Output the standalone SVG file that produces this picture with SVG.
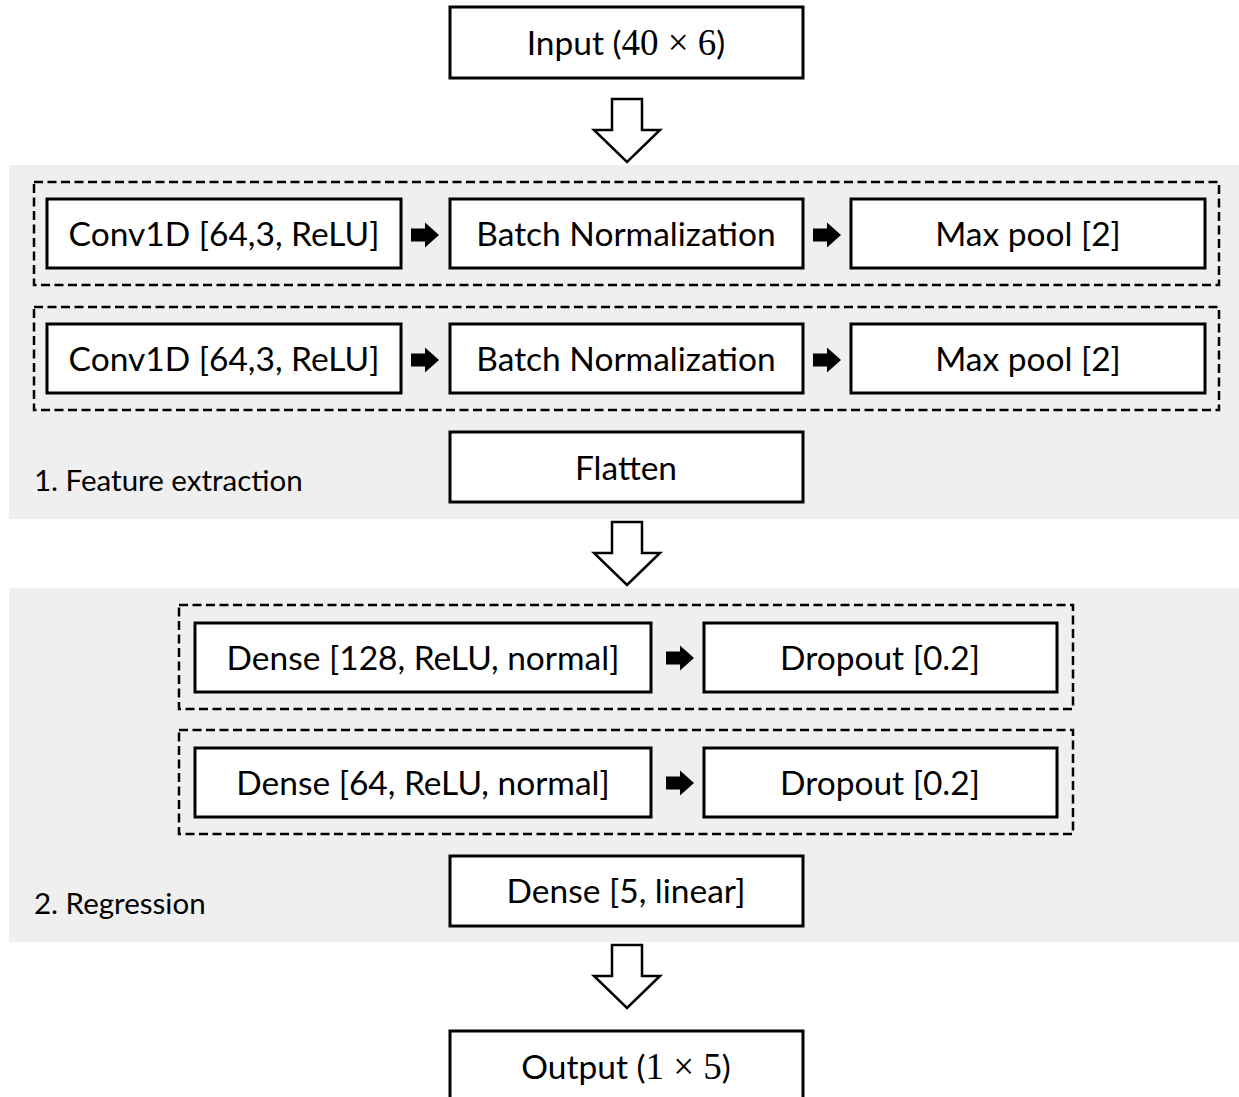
<svg xmlns="http://www.w3.org/2000/svg" width="1239" height="1097" viewBox="0 0 1239 1097">
<defs>
<style>
.panel{fill:#efefef;stroke:none}
.box{fill:#ffffff;stroke:#000;stroke-width:3}
.grp{fill:none;stroke:#000;stroke-width:2.5;stroke-dasharray:9 4.5}
.t{font-family:Lato,"Liberation Sans",sans-serif;font-size:33.5px;fill:#000;text-anchor:middle}
.m{font-family:"Liberation Serif",serif;font-size:37px}
.lbl{font-family:Lato,"Liberation Sans",sans-serif;font-size:29.5px;fill:#000}
.big{fill:#fff;stroke:#000;stroke-width:2.5;stroke-linejoin:miter}
.small{fill:#000;stroke:none}
</style>
<path id="bigArrow" d="M-15,0 H15 V31 H33 L0,63 L-33,31 H-15 Z"/>
<path id="smallArrow" d="M0,-6.5 H14 V-12.5 L28,0 L14,12.5 V6.5 H0 Z"/>
</defs>
<rect width="1239" height="1097" fill="#fff"/>
<g id="panels">
<rect class="panel" x="9" y="165" width="1230" height="354"/>
<rect class="panel" x="9" y="588" width="1230" height="354"/>
<text class="lbl" x="34" y="491">1. Feature extraction</text>
<text class="lbl" x="34" y="914">2. Regression</text>
</g>
<g id="groups">
<rect class="grp" x="34" y="182" width="1185" height="103"/>
<rect class="grp" x="34" y="307" width="1185" height="103"/>
<rect class="grp" x="179" y="605" width="894" height="104"/>
<rect class="grp" x="179" y="730" width="894" height="104"/>
</g>
<g id="connectors">
<use href="#bigArrow" class="big" x="627" y="99"/>
<use href="#bigArrow" class="big" x="627" y="522"/>
<use href="#bigArrow" class="big" x="627" y="945"/>
<use href="#smallArrow" class="small" x="411" y="235"/>
<use href="#smallArrow" class="small" x="813" y="235"/>
<use href="#smallArrow" class="small" x="411" y="360"/>
<use href="#smallArrow" class="small" x="813" y="360"/>
<use href="#smallArrow" class="small" x="666" y="658"/>
<use href="#smallArrow" class="small" x="666" y="783"/>
</g>
<g id="input"><rect class="box" x="450" y="7" width="353" height="71"/><text class="t" x="626" y="55">Input (<tspan class="m">40 × 6</tspan>)</text></g>
<g id="conv1"><rect class="box" x="47" y="199" width="354" height="69"/><text class="t" x="224" y="246">Conv1D [64,3, ReLU]</text></g>
<g id="bn1"><rect class="box" x="450" y="199" width="353" height="69"/><text class="t" x="626" y="246">Batch Normalization</text></g>
<g id="pool1"><rect class="box" x="851" y="199" width="354" height="69"/><text class="t" x="1028" y="246">Max pool [2]</text></g>
<g id="conv2"><rect class="box" x="47" y="324" width="354" height="69"/><text class="t" x="224" y="371">Conv1D [64,3, ReLU]</text></g>
<g id="bn2"><rect class="box" x="450" y="324" width="353" height="69"/><text class="t" x="626" y="371">Batch Normalization</text></g>
<g id="pool2"><rect class="box" x="851" y="324" width="354" height="69"/><text class="t" x="1028" y="371">Max pool [2]</text></g>
<g id="flatten"><rect class="box" x="450" y="432" width="353" height="70"/><text class="t" x="626" y="480">Flatten</text></g>
<g id="dense128"><rect class="box" x="195" y="623" width="456" height="69"/><text class="t" x="423" y="670">Dense [128, ReLU, normal]</text></g>
<g id="drop1"><rect class="box" x="704" y="623" width="353" height="69"/><text class="t" x="880" y="670">Dropout [0.2]</text></g>
<g id="dense64"><rect class="box" x="195" y="748" width="456" height="69"/><text class="t" x="423" y="795">Dense [64, ReLU, normal]</text></g>
<g id="drop2"><rect class="box" x="704" y="748" width="353" height="69"/><text class="t" x="880" y="795">Dropout [0.2]</text></g>
<g id="dense5"><rect class="box" x="450" y="856" width="353" height="70"/><text class="t" x="626" y="903">Dense [5, linear]</text></g>
<g id="output"><rect class="box" x="450" y="1031" width="353" height="80"/><text class="t" x="626" y="1079">Output (<tspan class="m">1 × 5</tspan>)</text></g>
</svg>
